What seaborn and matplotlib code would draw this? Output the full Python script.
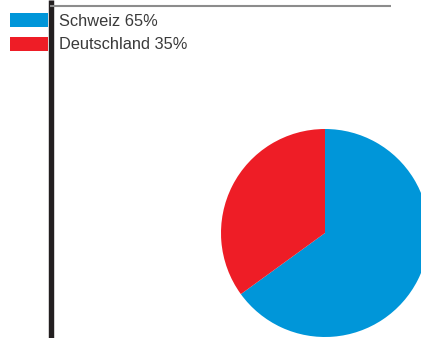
import matplotlib
matplotlib.use("Agg")
import matplotlib.pyplot as plt
from matplotlib.patches import Rectangle
import seaborn as sns

# Shares by country
countries = ["Schweiz", "Deutschland"]
shares = [65, 35]
colors = ["#0096d9", "#ee1d26"]

sns.set_theme(style="white")
plt.rcParams["font.family"] = ["Liberation Sans", "DejaVu Sans"]

W, H = 421, 338
fig = plt.figure(figsize=(W / 100, H / 100), dpi=100)
ax = fig.add_axes([0, 0, 1, 1])

# Pie, clockwise from 12 o'clock
ax.pie(shares, colors=colors, startangle=90, counterclock=False,
       center=(325, H - 233), radius=104,
       wedgeprops=dict(linewidth=0), frame=True)

ax.set_xlim(0, W)
ax.set_ylim(0, H)
ax.set_aspect("equal")
ax.axis("off")

# Vertical rule and top rule
ax.plot([50.5, 50.5], [0, H], color="#231f20", lw=3.9, solid_capstyle="butt")
ax.plot([50, 391], [H - 6, H - 6], color="#8c8c8c", lw=1.5, solid_capstyle="butt")

# Legend entries
for i, (name, val, col) in enumerate(zip(countries, shares, colors)):
    top = 13 + 24 * i
    ax.add_patch(Rectangle((10, H - top - 13.5), 38, 13.5, facecolor=col,
                           edgecolor="none", zorder=1))
    ax.text(59, H - (25.6 + 23.6 * i), f"{name} {val}%", fontsize=11.8,
            color="#3a3a3a", va="baseline", ha="left")

fig.savefig("out.png", dpi=100)
